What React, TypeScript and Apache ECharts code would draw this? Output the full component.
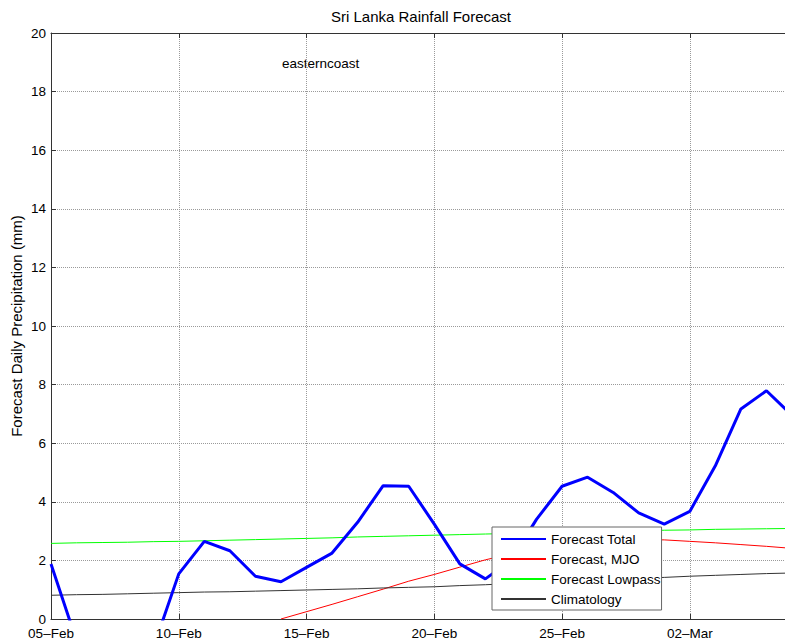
import React, { useEffect, useRef } from "react";
import * as echarts from "echarts";

const dates = [
  "05–Feb", "06–Feb", "07–Feb", "08–Feb", "09–Feb", "10–Feb", "11–Feb", "12–Feb", "13–Feb", "14–Feb",
  "15–Feb", "16–Feb", "17–Feb", "18–Feb", "19–Feb", "20–Feb", "21–Feb", "22–Feb", "23–Feb", "24–Feb",
  "25–Feb", "26–Feb", "27–Feb", "28–Feb", "01–Mar", "02–Mar", "03–Mar", "04–Mar", "05–Mar", "06–Mar",
];

const forecastTotal = [
  1.88, -0.75, null, null, -1.0, 1.54, 2.65, 2.33, 1.46, 1.27,
  1.76, 2.25, 3.3, 4.55, 4.53, 3.24, 1.88, 1.37, 2.0, 3.4,
  4.53, 4.84, 4.32, 3.62, 3.24, 3.67, 5.23, 7.17, 7.79, 6.95,
];

const forecastMJO = [
  null, null, null, null, null, null, null, null, null, 0.0,
  0.25, 0.5, 0.76, 1.02, 1.29, 1.52, 1.77, 2.02, 2.22, 2.4,
  2.54, 2.63, 2.69, 2.71, 2.7, 2.65, 2.6, 2.54, 2.48, 2.41,
];

const forecastLowpass = [
  2.58, 2.6, 2.61, 2.62, 2.64, 2.65, 2.67, 2.69, 2.71, 2.73,
  2.75, 2.77, 2.8, 2.82, 2.84, 2.86, 2.88, 2.9, 2.92, 2.94,
  2.96, 2.98, 3.0, 3.01, 3.03, 3.04, 3.06, 3.07, 3.08, 3.09,
];

const climatology = [
  0.81, 0.83, 0.84, 0.86, 0.88, 0.9, 0.92, 0.93, 0.95, 0.97,
  0.99, 1.01, 1.03, 1.06, 1.08, 1.1, 1.14, 1.17, 1.21, 1.24,
  1.28, 1.32, 1.35, 1.39, 1.42, 1.46, 1.49, 1.52, 1.55, 1.57,
];

const FONT = "Liberation Sans, Arial, Helvetica, sans-serif";

export default function App() {
  const ref = useRef<HTMLDivElement>(null);

  useEffect(() => {
    if (!ref.current) return;
    const chart = echarts.init(ref.current, undefined, { renderer: "svg" });
    const gridLine = { show: true, lineStyle: { type: "dotted", color: "#9a9a9a", width: 1 } };
    chart.setOption({
      animation: false,
      backgroundColor: "#fff",
      textStyle: { fontFamily: FONT },
      grid: { left: 51, top: 33, right: 8, bottom: 20, containLabel: false },
      xAxis: [
        {
          type: "category",
          data: dates,
          boundaryGap: false,
          axisLine: { show: true, lineStyle: { color: "#333", width: 1 } },
          axisTick: { show: true, inside: true, length: 5, interval: 4, lineStyle: { color: "#333" } },
          axisLabel: {
            interval: 4,
            fontSize: 13.5,
            color: "#000",
            margin: 7,
            fontFamily: FONT,
          },
          splitLine: { ...gridLine, interval: 4 },
        },
        {
          type: "category",
          data: dates,
          boundaryGap: false,
          position: "top",
          axisLine: { show: true, lineStyle: { color: "#333", width: 1 } },
          axisTick: { show: true, inside: true, length: 5, interval: 4, lineStyle: { color: "#333" } },
          axisLabel: { show: false },
          splitLine: { show: false },
        },
      ],
      yAxis: {
        type: "value",
        min: 0,
        max: 20,
        interval: 2,
        axisLine: { show: true, lineStyle: { color: "#333", width: 1 } },
        axisTick: { show: true, inside: true, length: 5, lineStyle: { color: "#333" } },
        axisLabel: { fontSize: 13.5, color: "#000", margin: 5, fontFamily: FONT },
        splitLine: gridLine,
      },
      legend: {
        orient: "vertical",
        left: 492,
        top: 527,
        z: 20,
        itemWidth: 45,
        itemHeight: 14,
        itemGap: 6,
        padding: [5, 1, 4, 8],
        backgroundColor: "#fff",
        borderColor: "#666",
        borderWidth: 1,
        borderRadius: 0,
        itemStyle: { opacity: 0 },
        textStyle: { fontSize: 13.5, color: "#000", fontFamily: FONT, lineHeight: 14 },
        data: ["Forecast Total", "Forecast, MJO", "Forecast Lowpass", "Climatology"],
      },
      graphic: [
        {
          type: "text",
          x: 421,
          y: 16,
          style: {
            text: "Sri Lanka Rainfall Forecast",
            font: `15px ${FONT}`,
            fill: "#000",
            textAlign: "center",
            textVerticalAlign: "middle",
          },
        },
        {
          type: "text",
          x: 16,
          y: 326,
          rotation: Math.PI / 2,
          style: {
            text: "Forecast Daily Precipitation (mm)",
            font: `15px ${FONT}`,
            fill: "#000",
            textAlign: "center",
            textVerticalAlign: "middle",
          },
        },
        {
          type: "text",
          x: 282,
          y: 63,
          style: {
            text: "easterncoast",
            font: `13.5px ${FONT}`,
            fill: "#000",
            textAlign: "left",
            textVerticalAlign: "middle",
          },
        },
      ],
      series: [
        {
          name: "Forecast Total",
          type: "line",
          data: forecastTotal,
          symbol: "none",
          clip: true,
          z: 5,
          lineStyle: { color: "#0000ff", width: 3 },
          itemStyle: { color: "#0000ff" },
        },
        {
          name: "Forecast, MJO",
          type: "line",
          data: forecastMJO,
          symbol: "none",
          clip: true,
          z: 4,
          lineStyle: { color: "#ff0000", width: 1 },
          itemStyle: { color: "#ff0000" },
        },
        {
          name: "Forecast Lowpass",
          type: "line",
          data: forecastLowpass,
          symbol: "none",
          clip: true,
          z: 4,
          lineStyle: { color: "#00ff00", width: 1 },
          itemStyle: { color: "#00ff00" },
        },
        {
          name: "Climatology",
          type: "line",
          data: climatology,
          symbol: "none",
          clip: true,
          z: 4,
          lineStyle: { color: "#333333", width: 1 },
          itemStyle: { color: "#333333" },
        },
      ],
    });
    return () => chart.dispose();
  }, []);

  return (
    <div
      style={{
        position: "fixed",
        left: 0,
        top: 0,
        width: 785,
        height: 640,
        overflow: "hidden",
        background: "#fff",
      }}
    >
      <div ref={ref} style={{ width: 800, height: 640 }} />
    </div>
  );
}
